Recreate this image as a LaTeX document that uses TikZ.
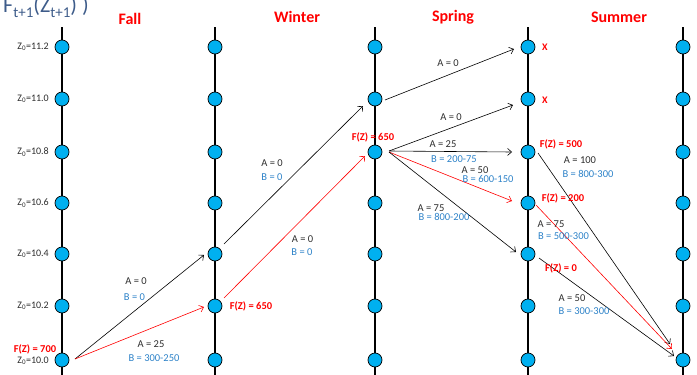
\documentclass[tikz,border=0pt]{standalone}
\usepackage{fontspec}
\setmainfont{Carlito}
\usetikzlibrary{arrows.meta,calc}
\definecolor{nodeblue}{RGB}{0,176,240}
\definecolor{lblblue}{RGB}{45,130,200}
\definecolor{titlec}{RGB}{62,92,138}
\definecolor{txtgray}{RGB}{45,45,45}
\begin{document}
\begin{tikzpicture}[x=1pt,y=-1pt,
  state/.style={circle, draw=black, line width=0.7pt, fill=nodeblue, minimum size=14pt, inner sep=0pt},
  axisline/.style={line width=1.1pt},
  season/.style={anchor=base, text=red, inner sep=0pt, font=\bfseries\fontsize{16}{16}\selectfont},
  zlab/.style={anchor=east, text=txtgray, inner sep=0pt, font=\fontsize{10}{11}\selectfont},
  alab/.style={text=txtgray, inner sep=0pt, font=\fontsize{10.5}{11}\selectfont},
  blab/.style={text=lblblue, inner sep=0pt, font=\fontsize{10.5}{11}\selectfont},
  flab/.style={text=red, inner sep=0pt, font=\bfseries\fontsize{10.5}{11}\selectfont},
  xmark/.style={text=red, inner sep=0pt, font=\bfseries\fontsize{10}{11}\selectfont},
  arr/.style={-{Straight Barb[length=4pt,width=7pt]}, line width=0.6pt},
  redarr/.style={arr, draw=red}]
\useasboundingbox (0,0) rectangle (697,375);

% title
\node[anchor=base west, inner sep=0pt, text=titlec, font=\fontsize{22}{22}\selectfont] (title) at (3,12.5)
  {F\raisebox{-5pt}{\fontsize{15}{15}\selectfont t+1}(Z\raisebox{-5pt}{\fontsize{15}{15}\selectfont t+1}) )};

% seasons
\node[season] (fall) at (130,24) {Fall};
\node[season] (winter) at (297,22.5) {Winter};
\node[season] (spring) at (453,21) {Spring};
\node[season] (summer) at (619,22) {Summer};

% axes and states
\foreach \c/\x in {1/62,2/215,3/375,4/528,5/683} {
  \draw[axisline] (\x,27) -- (\x,375);
  \foreach \r/\y in {1/47,2/99,3/152,4/203,5/254,6/306,7/360} {
    \node[state] (n\c-\r) at (\x,\y) {};
  }
}

% Z labels
\node[zlab] (z1) at (49,47) {Z\textsubscript{0}=11.2};
\node[zlab] (z2) at (49,99) {Z\textsubscript{0}=11.0};
\node[zlab] (z3) at (49,152) {Z\textsubscript{0}=10.8};
\node[zlab] (z4) at (49,203) {Z\textsubscript{0}=10.6};
\node[zlab] (z5) at (49,254) {Z\textsubscript{0}=10.4};
\node[zlab] (z6) at (49,306) {Z\textsubscript{0}=10.2};
\node[zlab] (z7) at (49,361) {Z\textsubscript{0}=10.0};

% arrows
\draw[arr] ($(n1-7)+(13,-1)$) -- ($(n2-5)+(-11,1)$);
\draw[redarr] ($(n1-7)+(13,-1)$) -- ($(n2-6)+(-11,1)$);
\draw[arr] ($(n2-5)+(9,-10)$) -- ($(n3-2)+(-12,7)$);
\draw[redarr] ($(n2-6)+(9,-8)$) -- ($(n3-3)+(-10,4)$);
\draw[arr] ($(n3-2)+(10,1)$) -- ($(n4-1)+(-14,2)$);
\draw[arr] ($(n3-3)+(14,-1)$) -- ($(n4-2)+(-15,6)$);
\draw[arr] ($(n3-3)+(14,-1)$) -- ($(n4-3)+(-16,0)$);
\draw[redarr] ($(n3-3)+(14,0)$) -- ($(n4-4)+(-16,-2)$);
\draw[arr] ($(n3-3)+(14,0)$) -- ($(n4-5)+(-12,-2)$);
\draw[arr] ($(n4-3)+(10,1)$) -- ($(n5-7)+(-13,-16)$);
\draw[redarr] ($(n4-4)+(8,2)$) -- ($(n5-7)+(-11,-11)$);
\draw[arr] ($(n4-5)+(11,4)$) -- ($(n5-7)+(-9,-4)$);

% arrow labels
\node[alab] (a1) at (136,281) {A = 0};
\node[blab] (b1) at (134.5,297) {B = 0};
\node[alab] (a2) at (151,344) {A = 25};
\node[blab] (b2) at (154,358) {B = 300-250};
\node[alab] (a3) at (272,163) {A = 0};
\node[blab] (b3) at (272,177) {B = 0};
\node[alab] (a4) at (302.5,239) {A = 0};
\node[blab] (b4) at (302,252) {B = 0};
\node[alab] (a5) at (448,63) {A = 0};
\node[alab] (a6) at (451,117) {A = 0};
\node[alab] (a7) at (443,144) {A = 25};
\node[blab] (b7) at (454,159) {B = 200-75};
\node[alab] (a8) at (475,170) {A = 50};
\node[blab] (b8) at (488,179) {B = 600-150};
\node[alab] (a9) at (431,208) {A = 75};
\node[blab] (b9) at (444,217) {B = 800-200};
\node[alab] (a10) at (580,160) {A = 100};
\node[blab] (b10) at (588,174) {B = 800-300};
\node[alab] (a11) at (551,224) {A = 75};
\node[blab] (b11) at (563.5,236) {B = 500-300};
\node[alab] (a12) at (572,298) {A = 50};
\node[blab] (b12) at (584,311) {B = 300-300};

% F(Z) labels
\node[flab] (f1) at (35,349) {F(Z) = 700};
\node[flab] (f2) at (251,306) {F(Z) = 650};
\node[flab] (f3) at (373,137) {F(Z) = 650};
\node[flab] (f4) at (561,144) {F(Z) = 500};
\node[flab] (f5) at (563,198) {F(Z) = 200};
\node[flab] (f6) at (561,268) {F(Z) = 0};

% X marks
\node[xmark] (x1) at (545,47) {X};
\node[xmark] (x2) at (545,100) {X};
\end{tikzpicture}
\end{document}
